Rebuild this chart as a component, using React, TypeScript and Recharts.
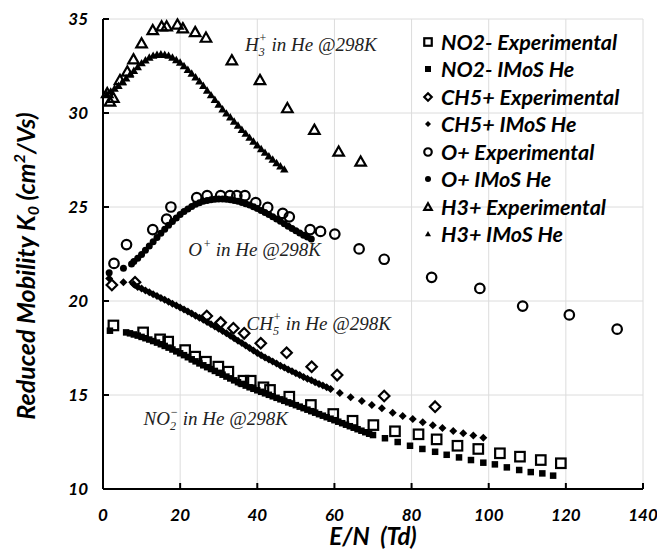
import React from 'react'
import {
  ScatterChart,
  Scatter,
  XAxis,
  YAxis,
  CartesianGrid,
  Legend,
  ReferenceDot,
  Label,
} from 'recharts'

const xTicks = [0, 20, 40, 60, 80, 100, 120, 140]
const yTicks = [10, 15, 20, 25, 30, 35]

// [E/N (Td), K0 (cm2/Vs)]
const no2Exp: [number, number][] = [
  [2.7, 18.7], [10.4, 18.33], [14.8, 17.96], [16.9, 17.84], [21.3, 17.39], [23.9, 17.04],
  [26.7, 16.77], [29.9, 16.51], [32.5, 16.24], [36.4, 15.76], [38.3, 15.76], [41.6, 15.41],
  [43.3, 15.27], [48.3, 14.91], [53.9, 14.47], [59.7, 13.99], [64.7, 13.63], [70.1, 13.4],
  [75.7, 13.07], [81.8, 12.91], [86.5, 12.64], [91.9, 12.3], [97.3, 12.13], [102.9, 11.9],
  [108.1, 11.72], [113.5, 11.54], [118.7, 11.37],
]

const no2Imos: [number, number][] = [
  [1.8, 18.42], [6, 18.33], [7, 18.28], [8, 18.22], [9, 18.16], [10, 18.09], [11, 18.02],
  [12, 17.95], [13, 17.87], [14, 17.79], [15, 17.7], [16, 17.61], [17, 17.52], [18, 17.42],
  [19, 17.32], [20, 17.22], [21, 17.12], [22, 17.01], [23, 16.9], [24, 16.79], [25, 16.68],
  [26, 16.58], [27, 16.48], [28, 16.38], [29, 16.28], [30, 16.18], [31, 16.08], [32, 15.98],
  [33, 15.88], [34, 15.78], [35, 15.68], [36, 15.59], [37, 15.5], [38, 15.41], [39, 15.33],
  [40, 15.25], [41, 15.17], [42, 15.09], [43, 15.01], [44, 14.93], [45, 14.85], [46, 14.77],
  [47, 14.69], [48, 14.61], [49, 14.54], [50, 14.46], [51, 14.38], [52, 14.3], [53, 14.22],
  [54, 14.14], [55, 14.06], [56, 13.98], [57, 13.9], [58, 13.82], [59, 13.74], [60, 13.66],
  [61, 13.58], [62, 13.5], [63, 13.42], [64, 13.34], [65, 13.26], [66, 13.18], [67, 13.1],
  [68, 13.02], [69, 12.94], [70, 12.87], [73.1, 12.7], [76.4, 12.5], [79.6, 12.3],
  [82.8, 12.13], [86.1, 11.98], [89.1, 11.82], [92.3, 11.68], [95.4, 11.54], [98.6, 11.4],
  [101.6, 11.31], [104.7, 11.15], [107.9, 11.01], [110.9, 10.9], [113.9, 10.83], [116.7, 10.71],
]

const ch5Exp: [number, number][] = [
  [2.3, 20.85], [8.3, 21.0], [26.9, 19.2], [30.5, 18.85], [33.8, 18.55], [36.6, 18.28],
  [40.9, 17.75], [47.6, 17.25], [54.1, 16.5], [60.7, 16.06], [72.9, 14.95], [86.1, 14.38],
]

const ch5Imos: [number, number][] = [
  [1.6, 21.2], [5.3, 21.0], [7.9, 20.9], [9, 20.75], [10, 20.66], [11, 20.56], [12, 20.46],
  [13, 20.36], [14, 20.26], [15, 20.16], [16, 20.06], [17, 19.96], [18, 19.86], [19, 19.76],
  [20, 19.66], [21, 19.55], [22, 19.44], [23, 19.33], [24, 19.22], [25, 19.11], [26, 19.0],
  [27, 18.88], [28, 18.76], [29, 18.64], [30, 18.52], [31, 18.4], [32, 18.28], [33, 18.15],
  [34, 18.02], [35, 17.89], [36, 17.76], [37, 17.63], [38, 17.5], [39, 17.37], [40, 17.24],
  [41, 17.12], [42, 17.0], [43, 16.89], [44, 16.78], [45, 16.67], [46, 16.56], [47, 16.46],
  [48, 16.36], [49, 16.26], [50, 16.16], [51, 16.06], [52, 15.96], [53, 15.87], [54, 15.78],
  [55, 15.68], [56, 15.59], [57, 15.5], [58, 15.41], [59, 15.32], [61.4, 15.1], [64.2, 14.88],
  [67.1, 14.68], [69.7, 14.47], [72.3, 14.29], [75.1, 14.06], [77.7, 13.88], [80.3, 13.72],
  [82.9, 13.55], [85.5, 13.39], [88.0, 13.24], [90.8, 13.08], [93.4, 12.96], [96.0, 12.84],
  [98.6, 12.73],
]

const oExp: [number, number][] = [
  [2.85, 22.0], [6.1, 23.0], [12.9, 23.8], [16.5, 24.35], [17.6, 25.0], [24.3, 25.5],
  [27.0, 25.6], [30.5, 25.6], [32.9, 25.6], [34.7, 25.6], [36.8, 25.6], [39.6, 25.23],
  [42.7, 24.98], [46.6, 24.66], [48.3, 24.48], [53.7, 23.8], [56.4, 23.7], [60.1, 23.56],
  [66.4, 22.77], [72.9, 22.22], [85.2, 21.26], [97.7, 20.67], [108.8, 19.73], [120.9, 19.26],
  [133.3, 18.5],
]

const oImos: [number, number][] = [
  [1.6, 21.5], [5.3, 21.74], [7.4, 21.97], [8, 22.1], [9, 22.28], [10, 22.48], [11, 22.7],
  [12, 22.92], [13, 23.15], [14, 23.38], [15, 23.6], [16, 23.82], [17, 24.03], [18, 24.23],
  [19, 24.42], [20, 24.6], [21, 24.76], [22, 24.9], [23, 25.03], [24, 25.14], [25, 25.23],
  [26, 25.3], [27, 25.35], [28, 25.39], [29, 25.41], [30, 25.42], [31, 25.42], [32, 25.41],
  [33, 25.38], [34, 25.34], [35, 25.3], [36, 25.24], [37, 25.17], [38, 25.1], [39, 25.01],
  [40, 24.92], [41, 24.82], [42, 24.71], [43, 24.6], [44, 24.48], [45, 24.36], [46, 24.24],
  [47, 24.11], [48, 23.98], [49, 23.86], [50, 23.74], [51, 23.62], [52, 23.5], [53, 23.4],
  [54, 23.3],
]

const h3Exp: [number, number][] = [
  [1.1, 31.05], [1.8, 30.6], [2.7, 30.8], [4.4, 31.75], [6.3, 32.2], [7.9, 32.85],
  [10.0, 33.7], [12.9, 34.4], [15.2, 34.6], [16.5, 34.6], [19.3, 34.7], [20.7, 34.5],
  [23.9, 34.3], [26.7, 34.0], [33.4, 32.8], [40.7, 31.75], [47.8, 30.25], [54.8, 29.1],
  [61.1, 27.94], [66.8, 27.41],
]

const h3Imos: [number, number][] = [
  [1, 31.0], [2, 31.15], [3, 31.3], [4, 31.45], [5, 31.65], [6, 31.85], [7, 32.05],
  [8, 32.25], [9, 32.45], [10, 32.65], [11, 32.8], [12, 32.95], [13, 33.05], [14, 33.1],
  [15, 33.12], [16, 33.1], [17, 33.05], [18, 32.95], [19, 32.82], [20, 32.68], [21, 32.5],
  [22, 32.3], [23, 32.1], [24, 31.9], [25, 31.68], [26, 31.45], [27, 31.2], [28, 30.95],
  [29, 30.7], [30, 30.45], [31, 30.2], [32, 29.98], [33, 29.77], [34, 29.55], [35, 29.33],
  [36, 29.11], [37, 28.9], [38, 28.69], [39, 28.48], [40, 28.28], [41, 28.08], [42, 27.89],
  [43, 27.7], [44, 27.52], [45, 27.34], [46, 27.17], [47, 27.0],
]

type Kind = 'square' | 'diamond' | 'circle' | 'triangle'

const series: { name: string; pairs: [number, number][]; kind: Kind; filled: boolean; size: number }[] = [
  { name: 'NO2- Experimental', pairs: no2Exp, kind: 'square', filled: false, size: 9.5 },
  { name: 'NO2- IMoS He', pairs: no2Imos, kind: 'square', filled: true, size: 6.5 },
  { name: 'CH5+ Experimental', pairs: ch5Exp, kind: 'diamond', filled: false, size: 10.5 },
  { name: 'CH5+ IMoS He', pairs: ch5Imos, kind: 'diamond', filled: true, size: 8 },
  { name: 'O+ Experimental', pairs: oExp, kind: 'circle', filled: false, size: 9.5 },
  { name: 'O+ IMoS He', pairs: oImos, kind: 'circle', filled: true, size: 7 },
  { name: 'H3+ Experimental', pairs: h3Exp, kind: 'triangle', filled: false, size: 10.5 },
  { name: 'H3+ IMoS He', pairs: h3Imos, kind: 'triangle', filled: true, size: 8.5 },
]

const tickFont = { fill: '#000', fontSize: 17, fontWeight: 700, fontStyle: 'italic', fontFamily: 'Lato' }
const noteFont = { fontFamily: 'Liberation Serif', fontStyle: 'italic', fontSize: 19, fill: '#222' }

function drawMarker(kind: Kind, filled: boolean, cx: number, cy: number, s: number) {
  const fill = filled ? '#000' : 'none'
  const stroke = filled ? 'none' : '#000'
  const sw = filled ? 0 : 2.2
  const h = s / 2
  if (kind === 'square') {
    return <rect x={cx - h} y={cy - h} width={s} height={s} fill={fill} stroke={stroke} strokeWidth={sw} />
  }
  if (kind === 'diamond') {
    return (
      <polygon
        points={`${cx},${cy - h} ${cx + h},${cy} ${cx},${cy + h} ${cx - h},${cy}`}
        fill={fill}
        stroke={stroke}
        strokeWidth={sw}
      />
    )
  }
  if (kind === 'circle') {
    return <circle cx={cx} cy={cy} r={h} fill={fill} stroke={stroke} strokeWidth={sw} />
  }
  return (
    <polygon
      points={`${cx},${cy - h} ${cx + h},${cy + h * 0.75} ${cx - h},${cy + h * 0.75}`}
      fill={fill}
      stroke={stroke}
      strokeWidth={sw}
    />
  )
}

const LegendBox = () => (
  <div style={{ fontFamily: 'Lato', fontWeight: 700, fontStyle: 'italic', fontSize: 21.5, color: '#000' }}>
    {series.map((s) => (
      <div key={s.name} style={{ display: 'flex', alignItems: 'center', height: 27.5, whiteSpace: 'nowrap' }}>
        <svg width={14} height={14} style={{ marginRight: 6 }}>
          {drawMarker(s.kind, s.filled, 7, 7, s.filled ? 6 : 7.5)}
        </svg>
        {s.name}
      </div>
    ))}
  </div>
)

const YTitle = (props: any) => {
  const vb = props.viewBox
  const x = vb.x - 14
  const y = vb.y + vb.height / 2 + 12
  return (
    <text
      x={x}
      y={y}
      transform={`rotate(-90, ${x}, ${y})`}
      textAnchor="middle"
      dominantBaseline="middle"
      style={{ fontFamily: 'Lato', fontWeight: 700, fontStyle: 'italic', fontSize: 25 }}
      fill="#000"
    >
      Reduced Mobility K<tspan dy={6} fontSize={16}>0</tspan>
      <tspan dy={-6}> (cm</tspan>
      <tspan dy={-8} fontSize={16}>2</tspan>
      <tspan dy={8}>/Vs)</tspan>
    </text>
  )
}

const XTitle = (props: any) => {
  const vb = props.viewBox
  return (
    <text
      x={vb.x + vb.width / 2}
      y={545}
      textAnchor="middle"
      style={{ fontFamily: 'Lato', fontWeight: 700, fontStyle: 'italic', fontSize: 24, whiteSpace: 'pre' }}
      fill="#000"
    >
      E/N{'\u00a0\u00a0'}(Td)
    </text>
  )
}

const note = (sub: string | null, sup: string, head: string) => (props: any) => {
  const { x, y } = props.viewBox
  return (
    <text x={x} y={y} style={noteFont}>
      {head}
      {sub && <tspan dy={5} fontSize={12}>{sub}</tspan>}
      <tspan dx={sub ? -6 : 1} dy={sub ? -14 : -8} fontSize={12}>{sup}</tspan>
      <tspan dy={sub ? 9 : 8}> in He @298K</tspan>
    </text>
  )
}

export default function App() {
  return (
    <div>
      <style>{'body{margin:0}'}</style>
      <ScatterChart width={657} height={549} margin={{ top: 19, right: 14, bottom: 20, left: 43 }}>
        <CartesianGrid stroke="#dcdcdc" strokeWidth={1} />
        <XAxis
          type="number"
          dataKey="x"
          domain={[0, 140]}
          ticks={xTicks}
          height={40}
          tickSize={-6}
          tickMargin={26}
          axisLine={{ stroke: '#000', strokeWidth: 2 }}
          tickLine={{ stroke: '#000', strokeWidth: 2 }}
          tick={tickFont}
        >
          <Label content={XTitle} />
        </XAxis>
        <XAxis
          xAxisId="top"
          orientation="top"
          type="number"
          domain={[0, 140]}
          ticks={xTicks}
          height={0}
          tickSize={-6}
          tick={false}
          axisLine={{ stroke: '#000', strokeWidth: 2 }}
          tickLine={{ stroke: '#000', strokeWidth: 2 }}
        />
        <YAxis
          type="number"
          dataKey="y"
          domain={[10, 35]}
          ticks={yTicks}
          width={60}
          tickSize={-6}
          tickMargin={21}
          axisLine={{ stroke: '#000', strokeWidth: 2 }}
          tickLine={{ stroke: '#000', strokeWidth: 2 }}
          tick={tickFont}
        >
          <Label content={YTitle} />
        </YAxis>
        <YAxis
          yAxisId="right"
          orientation="right"
          type="number"
          domain={[10, 35]}
          ticks={yTicks}
          width={0}
          tickSize={-6}
          tick={false}
          axisLine={{ stroke: '#000', strokeWidth: 2 }}
          tickLine={{ stroke: '#000', strokeWidth: 2 }}
        />
        <Legend
          layout="horizontal"
          align="center"
          verticalAlign="middle"
          content={LegendBox}
          wrapperStyle={{ left: 421, top: 28, width: 236 }}
        />
        {series.map((s) => (
          <Scatter
            key={s.name}
            name={s.name}
            data={s.pairs.map(([x, y]) => ({ x, y }))}
            isAnimationActive={false}
            shape={(p: any) => drawMarker(s.kind, s.filled, p.cx, p.cy, s.size)}
          />
        ))}
        <ReferenceDot x={36.8} y={33.3} r={0} fill="none" stroke="none" label={{ content: note('3', '+', 'H') }} />
        <ReferenceDot x={22.1} y={22.4} r={0} fill="none" stroke="none" label={{ content: note(null, '+', 'O') }} />
        <ReferenceDot x={37.2} y={18.45} r={0} fill="none" stroke="none" label={{ content: note('5', '+', 'CH') }} />
        <ReferenceDot x={10.5} y={13.4} r={0} fill="none" stroke="none" label={{ content: note('2', '\u2212', 'NO') }} />
      </ScatterChart>
    </div>
  )
}
